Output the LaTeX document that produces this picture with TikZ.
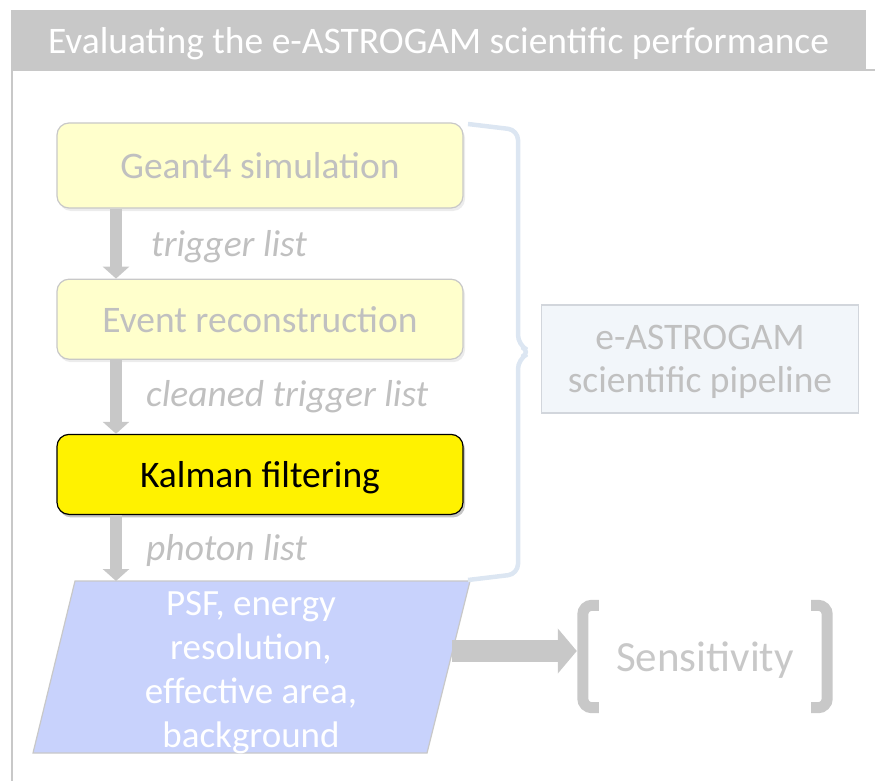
\documentclass[tikz,border=0pt]{standalone}
\usepackage{fontspec}
\setmainfont{Carlito}
\usepackage{tikz}
\usetikzlibrary{arrows.meta,positioning,shadows}
\definecolor{bargray}{RGB}{200,200,200}
\definecolor{fadetext}{RGB}{192,192,192}
\definecolor{paleyellow}{RGB}{255,255,204}
\definecolor{braceblue}{RGB}{220,230,242}
\definecolor{metricblue}{RGB}{200,210,252}
\definecolor{pipefill}{RGB}{242,246,250}
\definecolor{pipeline}{RGB}{210,214,220}
\newcommand{\boxfont}{\fontsize{37.5}{43}\selectfont}

\begin{document}
\begin{tikzpicture}[
  x=1pt,y=-1pt,
  stage/.style={draw=bargray,line width=1.2pt,rounded corners=12pt,fill=paleyellow,text=fadetext,font=\boxfont,text depth=0pt,minimum width=406pt,minimum height=80pt,drop shadow={opacity=0.15,shadow xshift=2pt,shadow yshift=-3pt}},
  current/.style={stage,fill=yellow,draw=black,text=black,drop shadow={opacity=0.35,shadow xshift=2pt,shadow yshift=-3pt}},
  note/.style={font=\boxfont\itshape,text=fadetext,anchor=west,inner sep=0pt},
  flow/.style={draw=bargray,line width=12pt,-{Triangle[width=26pt,length=12pt]}},
  bigflow/.style={draw=bargray,line width=22pt,-{Triangle[width=44pt,length=19pt]}},
  brace/.style={draw=braceblue,line width=4.5pt,rounded corners=10pt},
  bracket/.style={draw=bargray,line width=11pt,rounded corners=9pt},
  metric/.style={fill=metricblue,draw=bargray,line width=1.2pt},
  pipebox/.style={draw=pipeline,line width=1.2pt,fill=pipefill,text=fadetext,font=\boxfont,align=center,text depth=0pt,minimum width=317pt,minimum height=108pt}
]
\useasboundingbox (0,0) rectangle (875,781);

% frame and title bar
\draw[bargray,line width=1.5pt] (12,781) |- (875,70);
\node[fill=bargray,text=white,font=\fontsize{37.5}{44}\selectfont,text depth=0pt,minimum width=855pt,minimum height=60pt] (title) at (438.5,40) {Evaluating the e-ASTROGAM scientific performance};

% processing chain
\node[stage,minimum height=85pt] (geant) at (260,165.5) {Geant4 simulation};
\node[stage,below=70pt of geant] (event) {Event reconstruction};
\node[current,below=74pt of event] (kalman) {Kalman filtering};
\coordinate (lane) at (116,0);

% output parallelogram
\coordinate (pa) at (33,753);
\coordinate (pb) at (427,753);
\coordinate (pc) at (470,581);
\coordinate (pd) at (75,581);
\filldraw[metric] (pa) -- (pb) -- (pc) -- (pd) -- cycle;
\node[text=white,font=\fontsize{37}{44}\selectfont,align=center] (metrics) at (251,673) {PSF, energy\\resolution,\\effective area,\\background};

\draw[flow] (geant.south -| lane) -- (event.north -| lane);
\draw[flow] (event.south -| lane) -- (kalman.north -| lane);
\draw[flow] (kalman.south -| lane) -- (pd -| lane);
\node[note] (trig) at (151,247) {trigger list};
\node[note] (clean) at (146,397) {cleaned trigger list};
\node[note] (phot) at (146,550) {photon list};

% pipeline brace
\draw[brace] (468,124) -- (518,130) -- (518,345) -- (531,352) -- (518,359) -- (518,574) -- (468,580);
\node[pipebox] (pipe) at (700,359) {e-ASTROGAM\\scientific pipeline};

% sensitivity
\node[text=bargray,font=\fontsize{43}{48}\selectfont,minimum width=256pt,minimum height=113pt] (sens) at (705,660) {Sensitivity};
\draw[bracket] ([xshift=22pt,yshift=-2pt]sens.north west) -- ([xshift=6pt,yshift=-2pt]sens.north west) -- ([xshift=6pt,yshift=9pt]sens.south west) -- ([xshift=22pt,yshift=9pt]sens.south west);
\draw[bracket] ([xshift=-22pt,yshift=-2pt]sens.north east) -- ([xshift=-6pt,yshift=-2pt]sens.north east) -- ([xshift=-6pt,yshift=9pt]sens.south east) -- ([xshift=-22pt,yshift=9pt]sens.south east);
\coordinate (edge) at (452,651);
\draw[bigflow] (edge) -- (edge -| sens.west);
\end{tikzpicture}
\end{document}
